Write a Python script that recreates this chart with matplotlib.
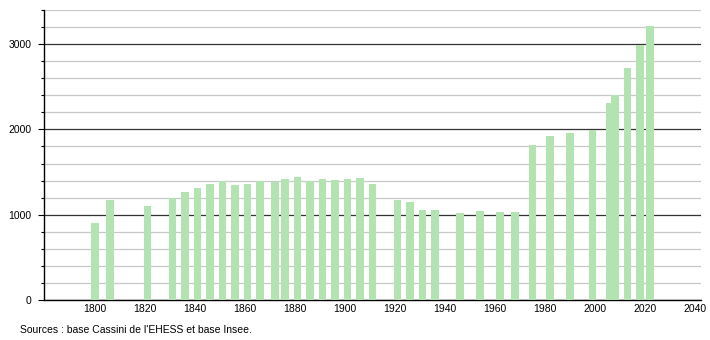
import matplotlib.pyplot as plt
from matplotlib.ticker import MultipleLocator

plt.rcParams['font.family'] = ['Liberation Sans', 'DejaVu Sans']

# census years and population
years = [1800, 1806, 1821, 1831, 1836, 1841, 1846, 1851, 1856, 1861, 1866,
         1872, 1876, 1881, 1886, 1891, 1896, 1901, 1906, 1911, 1921, 1926,
         1931, 1936, 1946, 1954, 1962, 1968, 1975, 1982, 1990, 1999, 2006,
         2008, 2013, 2018, 2022]
population = [900, 1176, 1106, 1196, 1263, 1310, 1365, 1400, 1353, 1361, 1392,
              1380, 1423, 1439, 1400, 1423, 1412, 1423, 1427, 1361, 1176, 1145,
              1059, 1059, 1020, 1039, 1027, 1027, 1816, 1922, 1961, 1992, 2306,
              2404, 2718, 2992, 3208]
x_ticks = [1800, 1820, 1840, 1860, 1880, 1900, 1920, 1940, 1960, 1980, 2000, 2020, 2040]
y_ticks = [0, 1000, 2000, 3000]

fig = plt.figure(figsize=(7.1, 3.4), dpi=100)
ax = fig.add_axes([44 / 710, 40 / 340, 657 / 710, 290 / 340])

ax.bar(years, population, width=3.0, color='#b3e3b0', zorder=3)

ax.set_xlim(1779.6, 2042.4)
ax.set_ylim(0, 3400)

ax.set_xticks(x_ticks)
ax.set_yticks(y_ticks)
ax.yaxis.set_minor_locator(MultipleLocator(200))

# light grid every 200, dark lines every 1000
ax.grid(axis='y', which='minor', color='#c8c8c8', linewidth=0.9, zorder=0)
ax.grid(axis='y', which='major', color='#333333', linewidth=0.9, zorder=1)

ax.tick_params(axis='x', length=0, pad=3, labelsize=7.5)
ax.tick_params(axis='y', which='major', length=4, width=0.8, pad=5, labelsize=7.5)
ax.tick_params(axis='y', which='minor', length=2, width=0.8)

for side in ('top', 'right'):
    ax.spines[side].set_visible(False)
for side in ('left', 'bottom'):
    ax.spines[side].set_linewidth(1.0)
    ax.spines[side].set_color('black')

fig.text(20 / 710, 1 - 330 / 340, "Sources : base Cassini de l'EHESS et base Insee.",
         fontsize=7.5, va='center', ha='left')

fig.savefig('out.png', dpi=100)
